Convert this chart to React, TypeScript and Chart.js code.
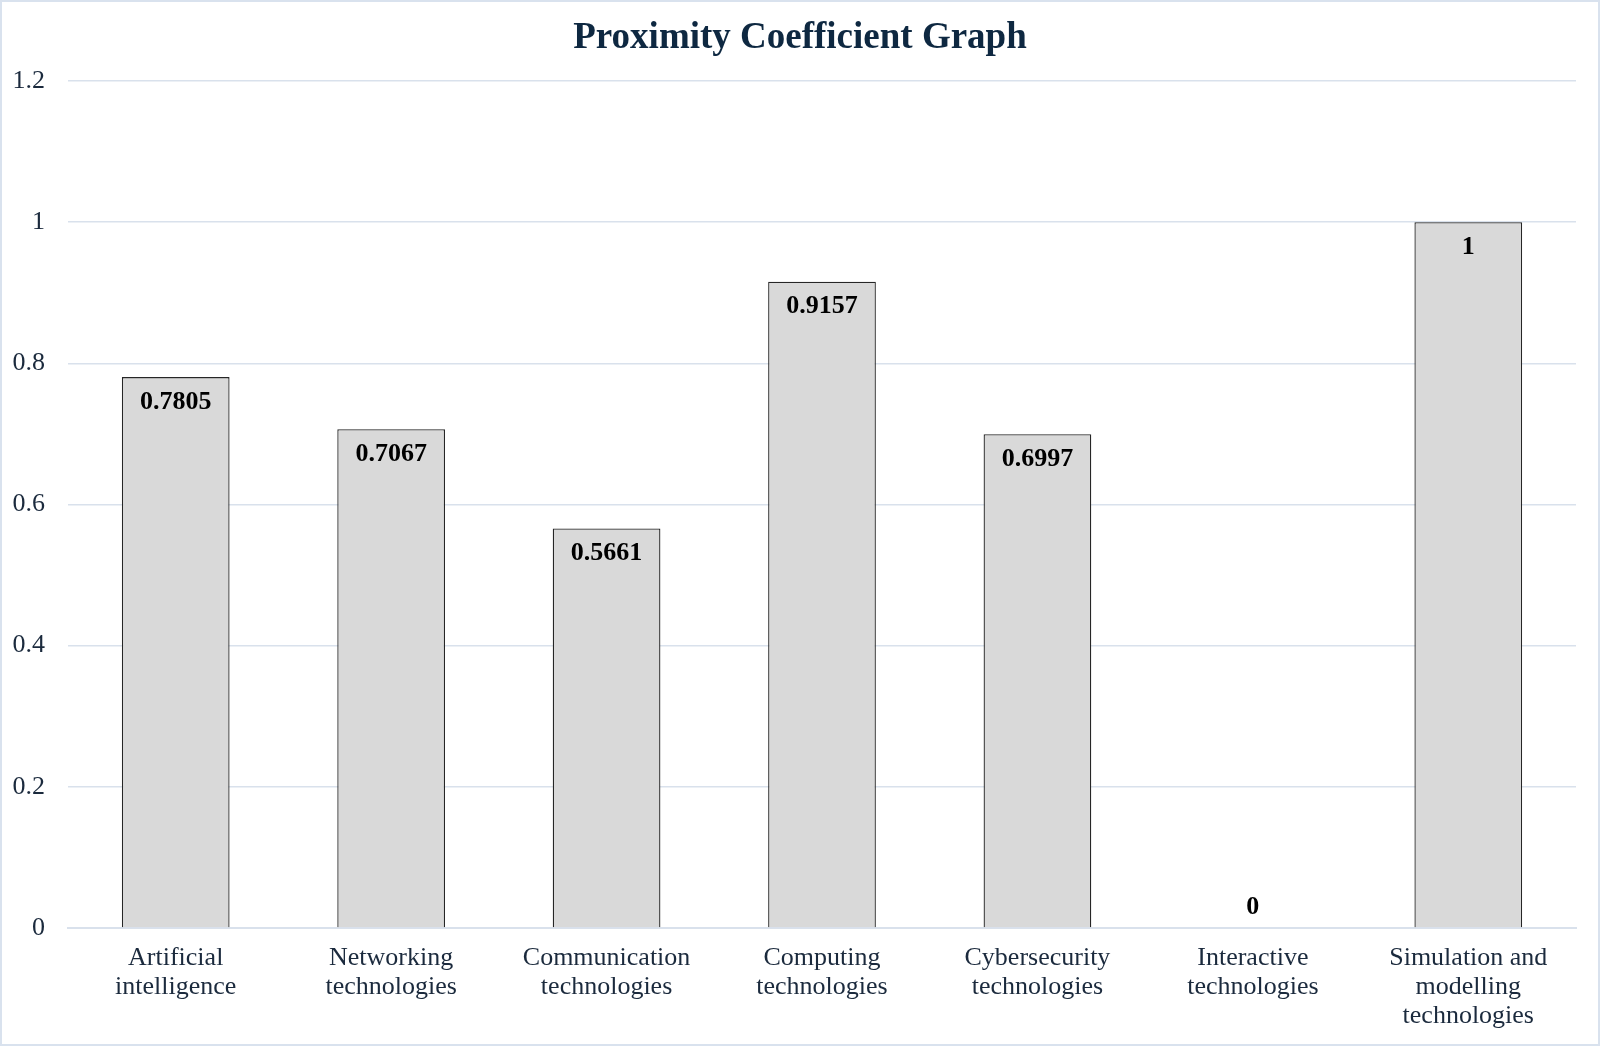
import { useEffect, useRef } from 'react';
import Chart from 'chart.js/auto';

const chartTitle = 'Proximity Coefficient Graph';
const categories = [
  ['Artificial', 'intelligence'],
  ['Networking', 'technologies'],
  ['Communication', 'technologies'],
  ['Computing', 'technologies'],
  ['Cybersecurity', 'technologies'],
  ['Interactive', 'technologies'],
  ['Simulation and', 'modelling', 'technologies'],
];
const coefficients = [0.7805, 0.7067, 0.5661, 0.9157, 0.6997, 0, 1];
const valueLabels = ['0.7805', '0.7067', '0.5661', '0.9157', '0.6997', '0', '1'];

const serif = '"Liberation Serif", "Times New Roman", serif';
const navy = '#1b2a3d';

// title centred on the whole canvas (the plugin one is shifted by the layout padding)
const centredTitle = {
  id: 'centredTitle',
  afterDraw(chart) {
    const ctx = chart.ctx;
    ctx.save();
    ctx.font = `bold 37px ${serif}`;
    ctx.fillStyle = '#0e2841';
    ctx.textAlign = 'center';
    ctx.textBaseline = 'alphabetic';
    ctx.fillText(chartTitle, chart.width / 2, 46);
    ctx.restore();
  },
};

// draws the bold numbers just inside the top of each bar
const barValues = {
  id: 'barValues',
  afterDatasetsDraw(chart) {
    const ctx = chart.ctx;
    const meta = chart.getDatasetMeta(0);
    const yScale = chart.scales.y;
    ctx.save();
    ctx.font = `bold 26px ${serif}`;
    ctx.fillStyle = '#000';
    ctx.textAlign = 'center';
    ctx.textBaseline = 'middle';
    meta.data.forEach((bar, i) => {
      const v = coefficients[i];
      const y = v === 0 ? yScale.getPixelForValue(0) - 21 : bar.y + 25;
      ctx.fillText(valueLabels[i], bar.x, y);
    });
    ctx.restore();
  },
};

const App = () => {
  const chartRef = useRef(null);
  const chartInstance = useRef(null);

  useEffect(() => {
    document.body.style.margin = '0';
    if (chartInstance.current) {
      chartInstance.current.destroy();
    }
    const ctx = chartRef.current.getContext('2d');

    chartInstance.current = new Chart(ctx, {
      type: 'bar',
      data: {
        labels: categories,
        datasets: [{
          label: 'Proximity coefficient',
          data: coefficients,
          backgroundColor: '#d9d9d9',
          borderColor: '#262626',
          borderWidth: 1.3,
          barPercentage: 0.5,
          categoryPercentage: 1,
        }]
      },
      options: {
        responsive: true,
        maintainAspectRatio: false,
        animation: false,
        layout: {
          padding: { top: 79, right: 22, bottom: 0, left: 0 }
        },
        plugins: {
          legend: { display: false },
          tooltip: { enabled: false },
          title: { display: false },
        },
        scales: {
          x: {
            afterFit: (scale) => { scale.height = 116; },
            grid: { display: false, drawTicks: false },
            border: { display: true, color: '#d9e1ec', width: 2 },
            ticks: {
              color: navy,
              font: { family: serif, size: 26, lineHeight: 1.115 },
              padding: 16,
              maxRotation: 0,
              autoSkip: false,
            },
          },
          y: {
            min: 0,
            max: 1.2,
            afterFit: (scale) => { scale.width = 66; },
            grid: { color: '#d9e1ec', lineWidth: 1.5, drawTicks: false },
            border: { display: false },
            ticks: {
              stepSize: 0.2,
              color: navy,
              padding: 23,
              font: { family: serif, size: 26 },
              callback: (value) => String(Number(Number(value).toFixed(1))),
            },
          },
        },
      },
      plugins: [barValues, centredTitle],
    });

    return () => {
      if (chartInstance.current) {
        chartInstance.current.destroy();
      }
    };
  }, []);

  return (
    <div style={{ width: 1600, height: 1046, boxSizing: 'border-box', border: '2px solid #d9e2ee', background: '#fff' }}>
      <div style={{ position: 'relative', width: '100%', height: '100%' }}>
        <canvas ref={chartRef}></canvas>
      </div>
    </div>
  );
};

export default App;
